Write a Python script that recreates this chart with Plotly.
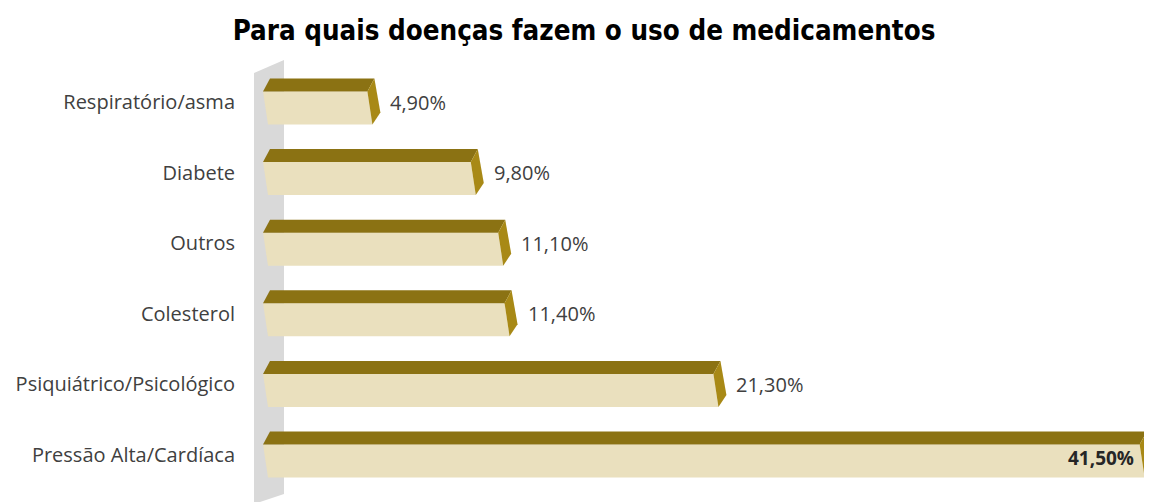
import plotly.graph_objects as go

# dados do gráfico (de cima para baixo)
categorias = ["Respiratório/asma", "Diabete", "Outros", "Colesterol",
              "Psiquiátrico/Psicológico", "Pressão Alta/Cardíaca"]
valores = [4.9, 9.8, 11.1, 11.4, 21.3, 41.5]
rotulos = ["4,90%", "9,80%", "11,10%", "11,40%", "21,30%", "41,50%"]
titulo = "Para quais doenças fazem o uso de medicamentos"

OFF = 8            # margem padrão do <body> na página
W, H = 1152 - OFF, 502 - OFF
ML, MT = 250 - OFF, 40 - OFF
SX = 21.1          # px por unidade no eixo x
ZERO_PX = 264 - OFF
SY = 70.6          # px por categoria
TOP_PX = 102 - OFF

x0 = (ML - ZERO_PX) / SX
x1 = (W - ZERO_PX) / SX
n = len(categorias)
pos = list(range(n - 1, -1, -1))
y_top = pos[0] + (TOP_PX - MT) / SY
y_bot = y_top - (H - MT) / SY

dx = lambda p: p / SX
dy = lambda p: p / SY

C_FRENTE = "#EAE0BE"
C_TOPO = "#8B7213"
C_LADO = "#A88916"

fig = go.Figure()

for cat, v, y in zip(categorias, valores, pos):
    yt = y + dy(10.5)    # topo da face frontal
    yb = y - dy(22.5)    # base da face frontal
    yk = y + dy(23.5)    # fundo do topo
    # face frontal
    fig.add_trace(go.Scatter(
        x=[dx(-1), v, v + dx(5), dx(4), dx(-1)], y=[yt, yt, yb, yb, yt],
        fill="toself", fillcolor=C_FRENTE, line=dict(width=0),
        mode="lines", hoverinfo="skip", showlegend=False))
    # face superior
    fig.add_trace(go.Scatter(
        x=[dx(-1), v, v + dx(7), dx(6), dx(-1)], y=[yt, yt, yk, yk, yt],
        fill="toself", fillcolor=C_TOPO, line=dict(width=0),
        mode="lines", hoverinfo="skip", showlegend=False))
    # face lateral
    fig.add_trace(go.Scatter(
        x=[v, v + dx(7), v + dx(13), v + dx(5), v],
        y=[yt, yk, yb + dy(12), yb, yt],
        fill="toself", fillcolor=C_LADO, line=dict(width=0),
        mode="lines", hoverinfo="skip", showlegend=False))

# rótulos de valor
for v, y, r in zip(valores, pos, rotulos):
    if v == max(valores):
        fig.add_annotation(x=v - dx(4), y=y - dy(3), text="<b>" + r + "</b>",
                           xanchor="right", showarrow=False,
                           font=dict(size=19, color="#262626"))
    else:
        fig.add_annotation(x=v + dx(21), y=y, text=r, xanchor="left",
                           showarrow=False, font=dict(size=20, color="#404040"))

# parede lateral cinza
px2x = lambda p: (p - OFF - ZERO_PX) / SX
py2y = lambda p: pos[0] - (p - OFF - TOP_PX) / SY
wall = "M {a},{b} L {c},{d} L {c},{e} L {a},{f} Z".format(
    a=px2x(254), b=py2y(73), c=px2x(284), d=py2y(60), e=py2y(494), f=py2y(504))
fig.add_shape(type="path", path=wall, xref="x", yref="y",
              fillcolor="#D9D9D9", line=dict(width=0), layer="below")

fig.update_layout(
    width=W, height=H,
    margin=dict(l=ML, r=0, t=MT, b=0),
    paper_bgcolor="white", plot_bgcolor="white",
    font=dict(family="Open Sans, sans-serif", size=20, color="#404040"),
    title=dict(text="<b>" + titulo + "</b>", x=(584 - OFF) / W, xanchor="center",
               y=1 - (30 - OFF) / H, yanchor="middle",
               font=dict(family="DejaVu Sans Condensed, Liberation Sans Narrow, sans-serif",
                         size=27.5, color="black")),
    xaxis=dict(range=[x0, x1], visible=False, fixedrange=True),
    yaxis=dict(range=[y_bot, y_top], tickvals=pos, ticktext=categorias,
               showgrid=False, zeroline=False, showline=False, ticks="",
               ticklabelstandoff=14, tickfont=dict(size=20, color="#404040")),
)

fig.write_html("out.html")
